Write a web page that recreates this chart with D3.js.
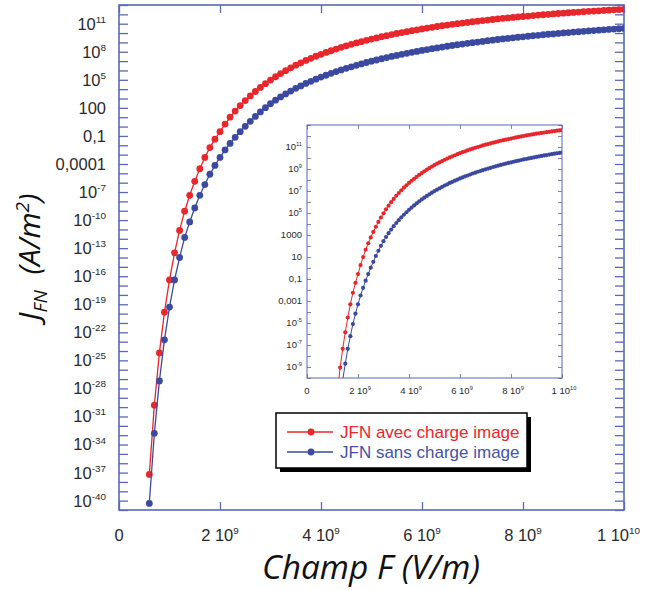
<!DOCTYPE html>
<html><head><meta charset="utf-8">
<script src="https://cdn.jsdelivr.net/npm/d3@7/dist/d3.min.js"></script>
<style>body{margin:0;background:#fff}svg{display:block}</style>
</head><body>
<svg id="c" width="646" height="590"></svg>
<script>
// Field F in units of 1e9 V/m
const fieldGV = [0.6,0.7,0.8,0.9,1.0,1.1,1.2,1.3,1.4,1.5,1.6,1.7,1.8,1.9,2.0,2.1,2.2,2.3,2.4,
 2.5,2.6,2.7,2.8,2.9,3.0,3.1,3.2,3.3,3.4,3.5,3.6,3.7,3.8,3.9,4.0,4.1,4.2,4.3,4.4,4.5,4.6,4.7,4.8,4.9,
 5.0,5.1,5.2,5.3,5.4,5.5,5.6,5.7,5.8,5.9,6.0,6.1,6.2,6.3,6.4,6.5,6.6,6.7,6.8,6.9,7.0,7.1,7.2,7.3,7.4,
 7.5,7.6,7.7,7.8,7.9,8.0,8.1,8.2,8.3,8.4,8.5,8.6,8.7,8.8,8.9,9.0,9.1,9.2,9.3,9.4,9.5,9.6,9.7,9.8,9.9,10.0];
// log10 of J (A/m²), "avec charge image"
const jAvecLog = [-37.2,-29.8,-24.2,-19.85,-16.4,-13.5,-11.1,-9.05,-7.35,-5.85,-4.5,-3.3,-2.25,-1.35,-0.55,0.27,1.0,1.66,2.25,
 2.78,3.28,3.75,4.19,4.59,4.97,5.33,5.67,5.98,6.28,6.57,6.82,7.07,7.30,7.52,7.73,7.93,8.11,8.29,8.47,8.63,8.79,8.94,9.08,9.22,
 9.36,9.48,9.61,9.72,9.84,9.95,10.05,10.15,10.25,10.35,10.44,10.53,10.61,10.70,10.78,10.85,10.93,11.00,11.07,11.14,11.21,11.27,11.33,11.39,11.45,
 11.51,11.57,11.62,11.67,11.72,11.77,11.82,11.87,11.92,11.96,12.00,12.05,12.09,12.13,12.17,12.21,12.24,12.28,12.32,12.35,12.38,12.42,12.45,12.48,12.51,12.54];
// log10 of J (A/m²), "sans charge image"
const jSansLog = [-40.3,-32.8,-27.2,-22.8,-19.3,-16.4,-14.0,-11.85,-10.2,-8.7,-7.35,-6.2,-5.1,-4.15,-3.3,-2.5,-1.8,-1.15,-0.55,
 0.03,0.56,1.09,1.57,2.02,2.44,2.82,3.17,3.49,3.80,4.09,4.35,4.61,4.84,5.07,5.29,5.49,5.69,5.88,6.06,6.23,6.39,6.55,6.70,6.85,
 6.99,7.12,7.25,7.38,7.50,7.61,7.73,7.83,7.94,8.04,8.14,8.23,8.33,8.41,8.50,8.59,8.67,8.75,8.82,8.90,8.97,9.04,9.11,9.18,9.24,
 9.31,9.37,9.43,9.49,9.55,9.60,9.66,9.71,9.76,9.82,9.87,9.91,9.96,10.01,10.05,10.10,10.14,10.19,10.23,10.27,10.31,10.35,10.39,10.43,10.46,10.50];

const seriesNames = ["JFN avec charge image", "JFN sans charge image"];
const seriesColors = ["#e8262b", "#3b4aa0"];

const xTickValues = [0, 2e9, 4e9, 6e9, 8e9, 1e10];
const xTickLabels = [["0",""],["2 10","9"],["4 10","9"],["6 10","9"],["8 10","9"],["1 10","10"]];

const mainYLabelExp = [11,8,5,2,-1,-4,-7,-10,-13,-16,-19,-22,-25,-28,-31,-34,-37,-40];
const mainYLabels = [["10","11"],["10","8"],["10","5"],["100",""],["0,1",""],["0,0001",""],["10","-7"],["10","-10"],["10","-13"],
 ["10","-16"],["10","-19"],["10","-22"],["10","-25"],["10","-28"],["10","-31"],["10","-34"],["10","-37"],["10","-40"]];
const insetYLabelExp = [11,9,7,5,3,1,-1,-3,-5,-7,-9];
const insetYLabels = [["10","11"],["10","9"],["10","7"],["10","5"],["1000",""],["10",""],["0,1",""],["0,001",""],["10","-5"],["10","-7"],["10","-9"]];

const axisColor = "#5a69b3";
const labelColor = "#2a2a2a";

const svg = d3.select("#c");
const data = [jAvecLog, jSansLog].map(arr => fieldGV.map((f, i) => ({x: f * 1e9, y: Math.pow(10, arr[i])})));

function drawPanel(g, o) {
  const x = d3.scaleLinear().domain([0, 1e10]).range([o.x0, o.x1]);
  const y = d3.scaleLog().domain([o.yMin, o.yMax]).range([o.y1, o.y0]);
  const decades = d3.range(Math.log10(o.yMin), Math.log10(o.yMax) + 1).map(e => Math.pow(10, e));
  const clipId = "clip" + o.id;
  g.append("clipPath").attr("id", clipId).append("rect")
    .attr("x", o.x0).attr("y", o.y0).attr("width", o.x1 - o.x0).attr("height", o.y1 - o.y0);
  if (o.bg) g.append("rect").attr("x", o.x0).attr("y", o.y0).attr("width", o.x1 - o.x0).attr("height", o.y1 - o.y0).attr("fill", "#fff");

  const style = sel => { sel.select(".domain").remove(); sel.selectAll("line").attr("stroke", axisColor).attr("stroke-width", o.tickW); sel.selectAll("text").remove(); };
  g.append("g").attr("transform", `translate(0,${o.y1})`).call(d3.axisBottom(x).tickValues(xTickValues).tickSize(-o.tickX).tickFormat("")).call(style);
  g.append("g").attr("transform", `translate(0,${o.y0})`).call(d3.axisTop(x).tickValues(xTickValues).tickSize(-o.tickX).tickFormat("")).call(style);
  g.append("g").attr("transform", `translate(${o.x0},0)`).call(d3.axisLeft(y).tickValues(decades).tickSize(-o.tickY).tickFormat("")).call(style);
  g.append("g").attr("transform", `translate(${o.x1},0)`).call(d3.axisRight(y).tickValues(decades).tickSize(-o.tickY).tickFormat("")).call(style);
  g.append("rect").attr("x", o.x0).attr("y", o.y0).attr("width", o.x1 - o.x0).attr("height", o.y1 - o.y0)
    .attr("fill", "none").attr("stroke", axisColor).attr("stroke-width", o.frameW);

  const lab = (px, py, l, size, anchor) => {
    const t = g.append("text").attr("x", px).attr("y", py).attr("text-anchor", anchor)
      .attr("font-family", "Liberation Sans, Arial, sans-serif").attr("font-size", size).attr("fill", labelColor);
    t.append("tspan").text(l[0]);
    if (l[1]) t.append("tspan").attr("font-size", size * 0.6).attr("dy", -size * 0.42).text(l[1]);
  };
  o.yExp.forEach((e, i) => lab(o.yLabX, y(Math.pow(10, e)) + o.ySize * 0.36, o.yLabels[i], o.ySize, "end"));
  xTickValues.forEach((v, i) => {
    if (o.lastXEnd && i === xTickValues.length - 1) lab(o.lastXEnd, o.xLabY, xTickLabels[i], o.xSize, "end");
    else lab(x(v) + (i === 0 ? 0 : o.xShift), o.xLabY, xTickLabels[i], o.xSize, "middle");
  });

  const line = d3.line().x(d => x(d.x)).y(d => y(d.y));
  const plot = g.append("g").attr("clip-path", `url(#${clipId})`);
  data.forEach((ser, k) => {
    const vis = ser.filter(d => d.y >= o.yMin * 0.3);
    plot.append("path").datum(ser).attr("d", line).attr("fill", "none").attr("stroke", seriesColors[k]).attr("stroke-width", o.lineW);
    plot.selectAll(null).data(vis).enter().append("circle")
      .attr("cx", d => x(d.x)).attr("cy", d => y(d.y)).attr("r", o.r).attr("fill", seriesColors[k]);
  });
}

drawPanel(svg.append("g"), {id: "main", x0: 119, x1: 624, y0: 5, y1: 510, yMin: 1e-41, yMax: 1e13,
  tickX: 8, tickY: 9, tickW: 1.3, frameW: 1.6, r: 3.4, lineW: 1.3,
  yExp: mainYLabelExp, yLabels: mainYLabels, yLabX: 106, ySize: 16.5, xLabY: 541, xSize: 16.5, xShift: 0, lastXEnd: 640});

drawPanel(svg.append("g"), {id: "inset", x0: 307, x1: 562, y0: 125, y1: 378, yMin: 1e-10, yMax: 1e13, bg: true,
  tickX: 4, tickY: 4, tickW: 0.8, frameW: 1, r: 2.1, lineW: 1,
  yExp: insetYLabelExp, yLabels: insetYLabels, yLabX: 302, ySize: 9.5, xLabY: 394, xSize: 9.5, xShift: 2});

// Legend
const lg = svg.append("g");
lg.append("rect").attr("x", 280).attr("y", 417).attr("width", 251).attr("height", 55).attr("fill", "#000");
lg.append("rect").attr("x", 276).attr("y", 413).attr("width", 251).attr("height", 55).attr("fill", "#fff").attr("stroke", "#000").attr("stroke-width", 1.5);
seriesNames.forEach((n, i) => {
  const yy = 432 + i * 20;
  lg.append("line").attr("x1", 287).attr("x2", 333).attr("y1", yy).attr("y2", yy).attr("stroke", seriesColors[i]).attr("stroke-width", 1.3);
  lg.append("circle").attr("cx", 311).attr("cy", yy).attr("r", 3.4).attr("fill", seriesColors[i]);
  lg.append("text").attr("x", 340).attr("y", yy + 6).attr("font-family", "Liberation Sans, Arial, sans-serif")
    .attr("font-size", 17).attr("fill", i === 0 ? "#e8262b" : "#4652a8").text(n);
});

// Titles
const xt = svg.append("text").attr("x", 371).attr("y", 579).attr("text-anchor", "middle")
  .attr("font-family", "Open Sans, Noto Sans, sans-serif").attr("font-style", "italic").attr("font-size", 30).attr("fill", "#111")
  .text("Champ F (V/m)");
let w = xt.node().getComputedTextLength();
xt.attr("font-size", 30 * 218 / w);

const yt = svg.append("text").attr("transform", "translate(40,257) rotate(-90)").attr("text-anchor", "middle")
  .attr("font-family", "Open Sans, Noto Sans, sans-serif").attr("font-style", "italic").attr("font-size", 30).attr("fill", "#111");
yt.append("tspan").text("J");
yt.append("tspan").attr("font-size", 19).attr("dy", 7).text("FN");
yt.append("tspan").attr("dy", -7).text("\u00a0\u00a0(A/m");
yt.append("tspan").attr("font-size", 19).attr("dy", -11).text("2");
yt.append("tspan").attr("dy", 11).text(")");
</script>
</body></html>
